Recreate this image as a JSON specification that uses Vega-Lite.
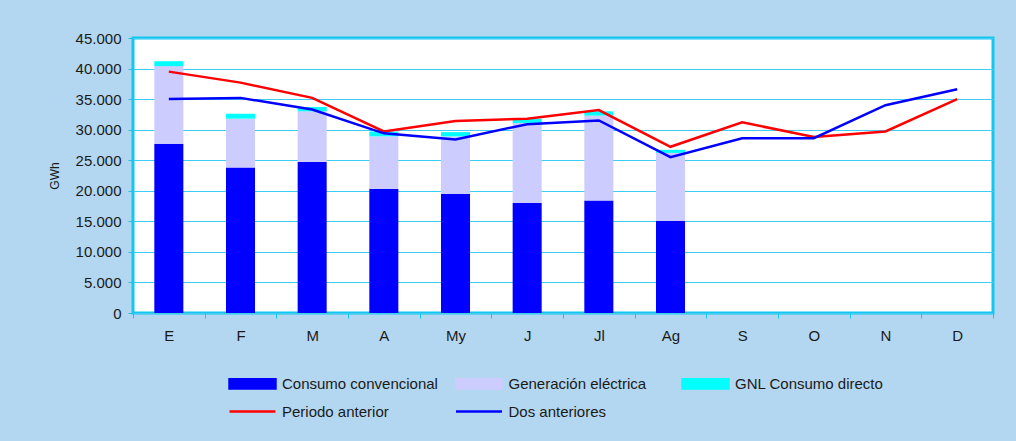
{
  "$schema": "https://vega.github.io/schema/vega-lite/v6.json",
  "width": 860,
  "height": 275,
  "autosize": {"type": "none"},
  "padding": {"left": 133, "top": 38, "right": 23, "bottom": 128},
  "background": "#b3d7f0",
  "config": {
    "font": "Liberation Sans",
    "view": {"fill": "#ffffff", "stroke": "#14c6f0", "strokeWidth": 3},
    "axis": {"labelFont": "Liberation Sans", "labelColor": "#1a1a1a", "titleFont": "Liberation Sans", "titleColor": "#1a1a1a", "titleFontWeight": "normal"},
    "legend": {"labelFont": "Liberation Sans", "labelColor": "#1a1a1a"}
  },
  "datasets": {
    "barras": [
      {"mes": "E", "serie": "Consumo convencional", "orden": 1, "valor": 27700},
      {"mes": "E", "serie": "Generación eléctrica", "orden": 2, "valor": 12700},
      {"mes": "E", "serie": "GNL Consumo directo", "orden": 3, "valor": 800},
      {"mes": "F", "serie": "Consumo convencional", "orden": 1, "valor": 23800},
      {"mes": "F", "serie": "Generación eléctrica", "orden": 2, "valor": 8000},
      {"mes": "F", "serie": "GNL Consumo directo", "orden": 3, "valor": 800},
      {"mes": "M", "serie": "Consumo convencional", "orden": 1, "valor": 24700},
      {"mes": "M", "serie": "Generación eléctrica", "orden": 2, "valor": 8300},
      {"mes": "M", "serie": "GNL Consumo directo", "orden": 3, "valor": 700},
      {"mes": "A", "serie": "Consumo convencional", "orden": 1, "valor": 20300},
      {"mes": "A", "serie": "Generación eléctrica", "orden": 2, "valor": 8600},
      {"mes": "A", "serie": "GNL Consumo directo", "orden": 3, "valor": 800},
      {"mes": "My", "serie": "Consumo convencional", "orden": 1, "valor": 19500},
      {"mes": "My", "serie": "Generación eléctrica", "orden": 2, "valor": 9400},
      {"mes": "My", "serie": "GNL Consumo directo", "orden": 3, "valor": 700},
      {"mes": "J", "serie": "Consumo convencional", "orden": 1, "valor": 18000},
      {"mes": "J", "serie": "Generación eléctrica", "orden": 2, "valor": 13100},
      {"mes": "J", "serie": "GNL Consumo directo", "orden": 3, "valor": 700},
      {"mes": "Jl", "serie": "Consumo convencional", "orden": 1, "valor": 18400},
      {"mes": "Jl", "serie": "Generación eléctrica", "orden": 2, "valor": 13900},
      {"mes": "Jl", "serie": "GNL Consumo directo", "orden": 3, "valor": 700},
      {"mes": "Ag", "serie": "Consumo convencional", "orden": 1, "valor": 15100},
      {"mes": "Ag", "serie": "Generación eléctrica", "orden": 2, "valor": 11100},
      {"mes": "Ag", "serie": "GNL Consumo directo", "orden": 3, "valor": 500}
    ],
    "lineas": [
      {"mes": "E", "serie": "Periodo anterior", "valor": 39500},
      {"mes": "F", "serie": "Periodo anterior", "valor": 37700},
      {"mes": "M", "serie": "Periodo anterior", "valor": 35200},
      {"mes": "A", "serie": "Periodo anterior", "valor": 29700},
      {"mes": "My", "serie": "Periodo anterior", "valor": 31400},
      {"mes": "J", "serie": "Periodo anterior", "valor": 31800},
      {"mes": "Jl", "serie": "Periodo anterior", "valor": 33200},
      {"mes": "Ag", "serie": "Periodo anterior", "valor": 27200},
      {"mes": "S", "serie": "Periodo anterior", "valor": 31200},
      {"mes": "O", "serie": "Periodo anterior", "valor": 28800},
      {"mes": "N", "serie": "Periodo anterior", "valor": 29700},
      {"mes": "D", "serie": "Periodo anterior", "valor": 35000},
      {"mes": "E", "serie": "Dos anteriores", "valor": 35000},
      {"mes": "F", "serie": "Dos anteriores", "valor": 35200},
      {"mes": "M", "serie": "Dos anteriores", "valor": 33300},
      {"mes": "A", "serie": "Dos anteriores", "valor": 29400},
      {"mes": "My", "serie": "Dos anteriores", "valor": 28400},
      {"mes": "J", "serie": "Dos anteriores", "valor": 30900},
      {"mes": "Jl", "serie": "Dos anteriores", "valor": 31500},
      {"mes": "Ag", "serie": "Dos anteriores", "valor": 25500},
      {"mes": "S", "serie": "Dos anteriores", "valor": 28600},
      {"mes": "O", "serie": "Dos anteriores", "valor": 28600},
      {"mes": "N", "serie": "Dos anteriores", "valor": 34000},
      {"mes": "D", "serie": "Dos anteriores", "valor": 36600}
    ]
  },
  "encoding": {
    "x": {
      "field": "mes",
      "type": "nominal",
      "scale": {"domain": ["E", "F", "M", "A", "My", "J", "Jl", "Ag", "S", "O", "N", "D"], "paddingInner": 0, "paddingOuter": 0},
      "axis": {
        "title": null,
        "labelAngle": 0,
        "domain": false,
        "grid": false,
        "tickBand": "extent",
        "tickColor": "#14c6f0",
        "tickSize": 5,
        "tickWidth": 1,
        "labelFontSize": 15,
        "labelPadding": 10
      }
    },
    "y": {
      "field": "valor",
      "type": "quantitative",
      "scale": {"domain": [0, 45000], "nice": false},
      "axis": {
        "title": "GWh",
        "titleFontSize": 12,
        "titlePadding": 14,
        "values": [0, 5000, 10000, 15000, 20000, 25000, 30000, 35000, 40000, 45000],
        "labelExpr": "replace(format(datum.value, ','), ',', '.')",
        "labelFontSize": 15,
        "labelPadding": 7,
        "domain": false,
        "grid": true,
        "gridColor": "#40cdf5",
        "gridWidth": 1,
        "tickColor": "#14c6f0",
        "tickSize": 5
      }
    }
  },
  "layer": [
    {
      "data": {"name": "barras"},
      "mark": {"type": "bar", "width": {"band": 0.405}},
      "encoding": {
        "y": {"field": "valor", "type": "quantitative", "stack": "zero"},
        "order": {"field": "orden", "type": "quantitative", "sort": "ascending"},
        "color": {
          "field": "serie",
          "type": "nominal",
          "scale": {
            "domain": ["Consumo convencional", "Generación eléctrica", "GNL Consumo directo", "Periodo anterior", "Dos anteriores"],
            "range": ["#0000ff", "#ccccff", "#00ffff", "#ff0000", "#0000ff"]
          },
          "legend": {
            "title": null,
            "orient": "none",
            "legendX": 112,
            "legendY": 338,
            "direction": "horizontal",
            "columns": 3,
            "gridAlign": "all",
            "columnPadding": 12.5,
            "rowPadding": 10,
            "padding": 0,
            "symbolType": "M-4,-0.8H4V0.8H-4Z",
            "symbolSize": 132,
            "symbolStrokeWidth": 2.5,
            "labelFontSize": 15,
            "labelOffset": 22,
            "encode": {
              "symbols": {
                "update": {
                  "shape": {"signal": "indexof(['Periodo anterior','Dos anteriores'], datum.value) >= 0 ? 'M-4,0H4' : 'M-4,-0.8H4V0.8H-4Z'"},
                  "fill": {"signal": "indexof(['Periodo anterior','Dos anteriores'], datum.value) >= 0 ? 'transparent' : scale('color', datum.value)"},
                  "stroke": {"signal": "indexof(['Periodo anterior','Dos anteriores'], datum.value) >= 0 ? scale('color', datum.value) : 'transparent'"},
                  "strokeWidth": {"value": 2.5},
                  "opacity": {"value": 1}
                }
              }
            }
          }
        }
      }
    },
    {
      "data": {"name": "lineas"},
      "transform": [{"filter": "datum.serie == 'Periodo anterior'"}],
      "mark": {"type": "line", "strokeWidth": 2.5},
      "encoding": {
        "color": {"field": "serie", "type": "nominal"}
      }
    },
    {
      "data": {"name": "lineas"},
      "transform": [{"filter": "datum.serie == 'Dos anteriores'"}],
      "mark": {"type": "line", "strokeWidth": 2.5},
      "encoding": {
        "color": {"field": "serie", "type": "nominal"}
      }
    }
  ]
}
